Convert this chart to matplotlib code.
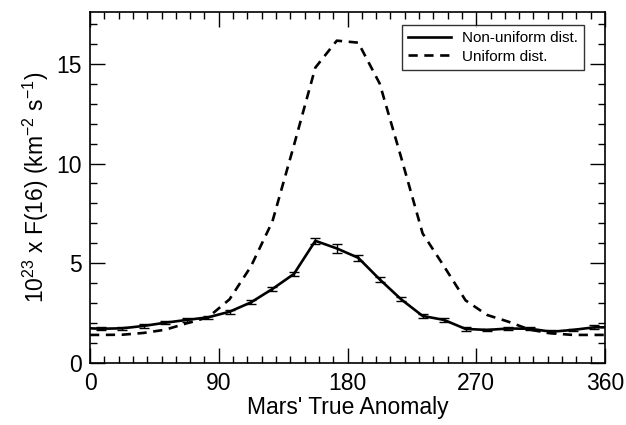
import numpy as np
import matplotlib
matplotlib.use("Agg")
import matplotlib.pyplot as plt
from matplotlib.ticker import MultipleLocator

plt.rcParams['font.family'] = ['Liberation Sans', 'DejaVu Sans']
plt.rcParams['mathtext.fontset'] = 'custom'
plt.rcParams['mathtext.rm'] = 'Liberation Sans'

# Mars' true anomaly (deg), bin centres plus the two edges
anomaly = [0, 7.5, 22.5, 37.5, 52.5, 67.5, 82.5, 97.5, 112.5, 127.5, 142.5,
           157.5, 172.5, 187.5, 202.5, 217.5, 232.5, 247.5, 262.5, 277.5,
           292.5, 307.5, 322.5, 337.5, 352.5, 360]

nonuniform = [1.75, 1.73, 1.75, 1.87, 2.03, 2.17, 2.30, 2.58, 3.05, 3.72, 4.47,
              6.13, 5.75, 5.28, 4.20, 3.20, 2.37, 2.17, 1.72, 1.67, 1.74, 1.73,
              1.58, 1.67, 1.80, 1.80]
nonuniform_err = [0.0, 0.07, 0.07, 0.08, 0.08, 0.08, 0.09, 0.10, 0.10, 0.10,
                  0.12, 0.14, 0.22, 0.14, 0.12, 0.10, 0.09, 0.08, 0.08, 0.07,
                  0.07, 0.08, 0.07, 0.07, 0.10, 0.0]

uniform = [1.42, 1.42, 1.43, 1.52, 1.68, 2.00, 2.30, 3.20, 4.85, 7.10, 10.90,
           14.80, 16.15, 16.05, 14.00, 10.30, 6.50, 4.85, 3.15, 2.42, 2.08,
           1.68, 1.50, 1.42, 1.42, 1.42]

fig = plt.figure(figsize=(6.26, 4.25), dpi=100)
ax = fig.add_axes([0.1438, 0.1452, 0.8227, 0.8273])

ax.plot(anomaly, nonuniform, color='black', lw=1.9, label='Non-uniform dist.')
ax.errorbar(anomaly[1:-1], nonuniform[1:-1], yerr=nonuniform_err[1:-1],
            fmt='none', ecolor='black', elinewidth=1.0, capsize=3.8, capthick=1.0)
ax.plot(anomaly, uniform, color='black', lw=1.9, linestyle=(0, (3.5, 2.5)),
        label='Uniform dist.')

ax.set_xlim(0, 360)
ax.set_ylim(0, 17.6)
ax.xaxis.set_major_locator(MultipleLocator(90))
ax.xaxis.set_minor_locator(MultipleLocator(10))
ax.yaxis.set_major_locator(MultipleLocator(5))
ax.yaxis.set_minor_locator(MultipleLocator(1))
ax.tick_params(which='both', direction='in', top=True, right=True,
               width=1.0, colors='black')
ax.tick_params(which='major', length=10.5, labelsize=16.5, pad=6)
ax.tick_params(which='minor', length=5)
for s in ax.spines.values():
    s.set_linewidth(1.2)

ax.set_xlabel("Mars' True Anomaly", fontsize=16.5, labelpad=1)
ax.set_ylabel(r"10$^{\mathregular{23}}$ x F(16) (km$^{\mathregular{-2}}$ s$^{\mathregular{-1}}$)",
              fontsize=16.5, labelpad=4)

leg = ax.legend(loc='upper right', bbox_to_anchor=(0.959, 0.962),
                borderaxespad=0, fontsize=11, frameon=True, fancybox=False,
                handlelength=2.8, handletextpad=0.7, labelspacing=0.3,
                borderpad=0.4)
leg.get_frame().set_edgecolor('black')
leg.get_frame().set_linewidth(1.0)

fig.savefig('out.png', dpi=100)
